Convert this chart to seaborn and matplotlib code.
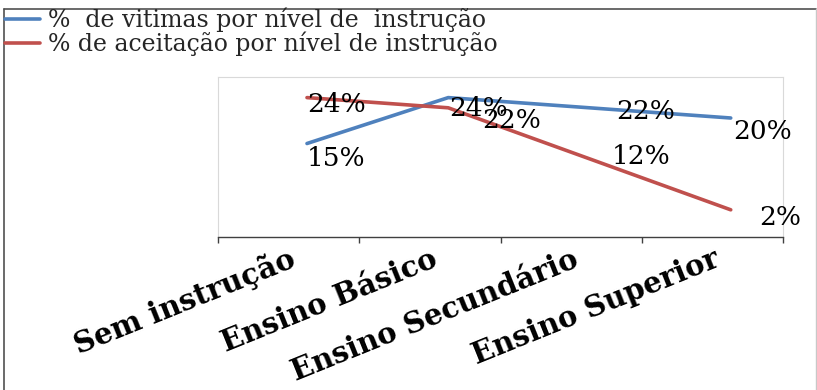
import numpy as np
import pandas as pd
import matplotlib
matplotlib.use("Agg")
import matplotlib.pyplot as plt
import seaborn as sns
from matplotlib.lines import Line2D

# ---- data ----
categorias = ["Sem instrução", "Ensino Básico", "Ensino Secundário", "Ensino Superior"]
vitimas = [15, 24, 22, 20]
aceitacao = [24, 22, 12, 2]
series_nomes = ["%  de vitimas por nível de  instrução",
                "% de aceitação por nível de instrução"]
cores = ["#4F81BD", "#C0504D"]

sns.set_theme(style="white")
plt.rcParams["font.family"] = ["DejaVu Serif", "DejaVu Sans"]

W, H = 817, 390
fig = plt.figure(figsize=(W / 100, H / 100), dpi=100)
ax = fig.add_axes([218 / W, 1 - 237 / H, (783 - 218) / W, (237 - 77) / H])

offset = 0.13
pos = np.arange(len(categorias))
df = pd.DataFrame({
    "pos": np.concatenate([pos + offset, pos + offset]),
    "valor": vitimas + aceitacao,
    "serie": [series_nomes[0]] * len(vitimas) + [series_nomes[1]] * len(aceitacao),
})
sns.lineplot(data=df, x="pos", y="valor", hue="serie", hue_order=series_nomes,
             palette=cores, linewidth=2.6, ax=ax, legend=False, sort=False)

ax.set_xlim(-0.5, len(categorias) - 0.5)
ax.set_ylim(-3.33, 28.04)
ax.set_yticks([])
ax.set_xlabel("")
ax.set_ylabel("")

# spines
for s in ["top", "left", "right"]:
    ax.spines[s].set_color("#D9D9D9")
    ax.spines[s].set_linewidth(0.8)
ax.spines["bottom"].set_color("#404040")
ax.spines["bottom"].set_linewidth(1.0)

# major ticks at category boundaries, labels at centres (minor)
ax.set_xticks(np.arange(-0.5, len(categorias), 1.0))
ax.set_xticklabels([])
ax.tick_params(axis="x", which="major", direction="out", length=4, width=1.0,
               color="#404040", bottom=True)
ax.set_xticks(pos + 0.04, minor=True)
ax.set_xticklabels(categorias, minor=True, rotation=22, ha="right",
                   rotation_mode="anchor", fontweight="bold", fontsize=21,
                   color="black")
for lab in ax.get_xticklabels(minor=True):
    lab.set_va("center")
ax.tick_params(axis="x", which="minor", length=0, pad=15, bottom=True)

# data labels
label_font = dict(fontsize=19, color="black", ha="left", va="center")
off_v = [(0, -15), (1, -11), (27, -4), (2, -13)]
off_a = [(0, -7), (34, -13), (22, 2), (28, -8)]
for i, v in enumerate(vitimas):
    ax.annotate(f"{v}%", (pos[i] + offset, v), xytext=off_v[i],
                textcoords="offset pixels", annotation_clip=False, **label_font)
for i, v in enumerate(aceitacao):
    ax.annotate(f"{v}%", (pos[i] + offset, v), xytext=off_a[i],
                textcoords="offset pixels", annotation_clip=False, **label_font)

# legend
handles = [Line2D([0], [0], color=c, lw=2.6) for c in cores]
fig.legend(handles, series_nomes, loc="upper left",
           bbox_to_anchor=(5 / W, 1 - 8 / H), frameon=False, fontsize=17,
           handlelength=1.5, handletextpad=0.3, labelspacing=-0.05,
           borderpad=0, borderaxespad=0)

# outer frame
fig.add_artist(Line2D([4 / W, 816 / W], [1 - 9 / H] * 2, transform=fig.transFigure,
                      color="#505050", lw=1.2))
fig.add_artist(Line2D([4 / W] * 2, [0, 1 - 9 / H], transform=fig.transFigure,
                      color="#505050", lw=1.2))
fig.add_artist(Line2D([815.5 / W] * 2, [0, 1 - 9 / H], transform=fig.transFigure,
                      color="#C8C8C8", lw=1.0))

fig.savefig("out.png", dpi=100)
